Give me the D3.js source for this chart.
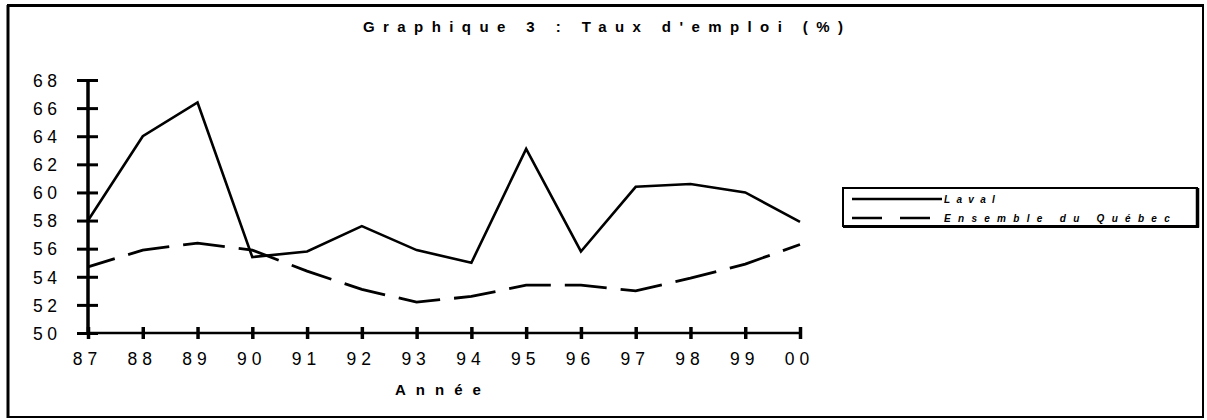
<!DOCTYPE html>
<html>
<head>
<meta charset="utf-8">
<script src="https://cdn.jsdelivr.net/npm/d3@7"></script>
<style>
  body { margin: 0; background: #fff; }
  svg text { font-family: "Liberation Sans", Arial, sans-serif; fill: #000; }
</style>
</head>
<body>
<svg id="chart" width="1207" height="420"></svg>
<script>
var years = ["87", "88", "89", "90", "91", "92", "93", "94", "95", "96", "97", "98", "99", "00"];
var laval = [58.0, 64.0, 66.4, 55.4, 55.8, 57.6, 55.9, 55.0, 63.1, 55.8, 60.4, 60.6, 60.0, 57.9];
var quebec = [54.7, 55.9, 56.4, 55.9, 54.4, 53.1, 52.2, 52.6, 53.4, 53.4, 53.0, 53.9, 54.9, 56.3];
var yTicks = [50, 52, 54, 56, 58, 60, 62, 64, 66, 68];
var seriesNames = ["Laval", "Ensemble du Québec"];

var svg = d3.select("#chart");

// outer frame
svg.append("rect")
    .attr("x", 8).attr("y", 6)
    .attr("width", 1195).attr("height", 411)
    .attr("fill", "none").attr("stroke", "#000").attr("stroke-width", 2);
svg.append("line").attr("x1", 7).attr("x2", 1204).attr("y1", 5.5).attr("y2", 5.5)
    .attr("stroke", "#000").attr("stroke-width", 3);
svg.append("line").attr("x1", 8).attr("x2", 8).attr("y1", 5).attr("y2", 418)
    .attr("stroke", "#000").attr("stroke-width", 3);

// title
svg.append("text")
    .attr("x", 363).attr("y", 32)
    .attr("textLength", 480).attr("lengthAdjust", "spacing")
    .attr("font-size", 15).attr("font-weight", "bold")
    .text("Graphique 3 : Taux d'emploi (%)");

var x = d3.scalePoint().domain(years).range([88, 800]);
var y = d3.scaleLinear().domain([50, 68]).range([333, 80]);

// y axis
var gy = svg.append("g")
    .attr("transform", "translate(88,0)")
    .call(d3.axisLeft(y).tickValues(yTicks).tickSize(11).tickPadding(12));
gy.select(".domain").attr("stroke-width", 3.5).attr("d", "M0," + y(68) + "V" + y(50));
gy.selectAll(".tick line").attr("x1", -11).attr("x2", 10).attr("stroke-width", 3);
gy.selectAll(".tick text")
    .attr("font-family", "Liberation Sans, Arial, sans-serif")
    .attr("font-size", 17.5).attr("letter-spacing", 4.5)
    .attr("x", -26.5).attr("dy", "0.36em");

// x axis
var gx = svg.append("g")
    .attr("transform", "translate(0," + y(50) + ")")
    .call(d3.axisBottom(x).tickSize(6).tickPadding(14));
gx.select(".domain").attr("stroke-width", 2.5).attr("d", "M88,0H800");
gx.selectAll(".tick line").attr("y1", -6).attr("y2", 6).attr("stroke-width", 3.5);
gx.selectAll(".tick text")
    .attr("font-family", "Liberation Sans, Arial, sans-serif")
    .attr("font-size", 17.5).attr("letter-spacing", 5)
    .attr("y", 32).attr("dy", 0).attr("dx", -1);

svg.append("text")
    .attr("x", 395).attr("y", 395)
    .attr("font-size", 15).attr("font-weight", "bold").attr("letter-spacing", 10)
    .text("Année");

var line = d3.line()
    .x(function (d, i) { return x(years[i]); })
    .y(function (d) { return y(d); });

svg.append("path")
    .datum(quebec)
    .attr("fill", "none").attr("stroke", "#000").attr("stroke-width", 2.8)
    .attr("stroke-dasharray", "42,14")
    .attr("stroke-dashoffset", 14)
    .attr("d", line);

svg.append("path")
    .datum(laval)
    .attr("fill", "none").attr("stroke", "#000").attr("stroke-width", 2.6)
    .attr("stroke-linejoin", "miter")
    .attr("d", line);

// legend
var lg = svg.append("g");
lg.append("rect")
    .attr("x", 843).attr("y", 188).attr("width", 354).attr("height", 38)
    .attr("fill", "#fff").attr("stroke", "#000").attr("stroke-width", 2);
lg.append("line").attr("x1", 1197.5).attr("x2", 1197.5).attr("y1", 188).attr("y2", 227.5)
    .attr("stroke", "#000").attr("stroke-width", 3.5);
lg.append("line").attr("x1", 843).attr("x2", 1199).attr("y1", 226.5).attr("y2", 226.5)
    .attr("stroke", "#000").attr("stroke-width", 3);

var rows = lg.selectAll("g.row")
    .data(seriesNames)
    .enter().append("g")
    .attr("class", "row")
    .attr("transform", function (d, i) { return "translate(0," + (199 + i * 19) + ")"; });

rows.append("line")
    .attr("x1", 852).attr("x2", 942).attr("y1", 0).attr("y2", 0)
    .attr("stroke", "#000").attr("stroke-width", 2.6)
    .attr("stroke-dasharray", function (d, i) { return i === 0 ? null : "30,18"; });

rows.append("text")
    .attr("x", 944).attr("y", 3.5)
    .attr("font-size", 10).attr("font-weight", "bold").attr("font-style", "italic")
    .attr("letter-spacing", function (d, i) { return i === 0 ? 6.3 : 7.3; })
    .text(function (d) { return d; });
</script>
</body>
</html>
